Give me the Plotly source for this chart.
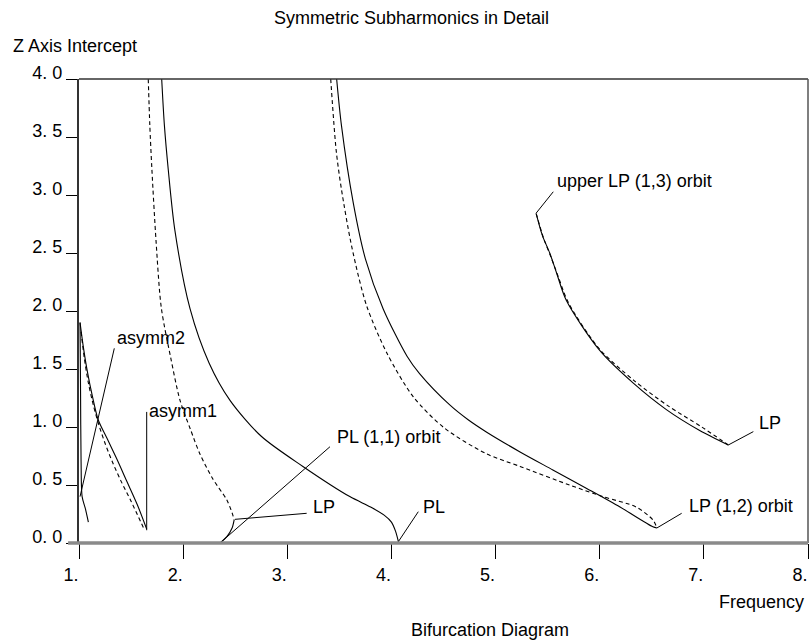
import plotly.graph_objects as go

# ---- data ----
x_ticks = [1, 2, 3, 4, 5, 6, 7, 8]
x_ticktext = ["1.", "2.", "3.", "4.", "5.", "6.", "7.", "8."]
y_ticks = [0, 0.5, 1, 1.5, 2, 2.5, 3, 3.5, 4]
y_ticktext = ["0. 0", "0. 5", "1. 0", "1. 5", "2. 0", "2. 5", "3. 0", "3. 5", "4. 0"]

# asymmetric branches near the left edge
asym_solid_x = [1.01, 1.04, 1.08, 1.13, 1.185, 1.27, 1.36, 1.46, 1.56, 1.65]
asym_solid_y = [1.90, 1.70, 1.48, 1.26, 1.06, 0.90, 0.73, 0.53, 0.33, 0.12]
asym_dash_x = [1.02, 1.05, 1.09, 1.14, 1.19, 1.25, 1.32, 1.40, 1.50, 1.63]
asym_dash_y = [1.82, 1.60, 1.38, 1.18, 1.02, 0.86, 0.70, 0.54, 0.36, 0.11]
asym2_x = [1.01, 1.015, 1.02, 1.03, 1.06, 1.09]
asym2_y = [1.90, 1.30, 0.70, 0.40, 0.30, 0.18]

# (1,1) orbit
o11_dash_x = [1.665, 1.68, 1.70, 1.74, 1.79, 1.88, 1.97, 2.07, 2.16, 2.28, 2.42, 2.47, 2.49]
o11_dash_y = [4.0, 3.6, 3.22, 2.6, 2.03, 1.6, 1.23, 0.98, 0.77, 0.56, 0.37, 0.26, 0.20]
o11_low_x = [2.49, 2.47, 2.42, 2.354]
o11_low_y = [0.20, 0.13, 0.055, 0.0]
o11_solid_x = [1.794, 1.82, 1.857, 1.92, 2.066, 2.25, 2.45, 2.75, 3.15, 3.60, 3.80, 3.93, 4.00, 4.04, 4.07]
o11_solid_y = [4.0, 3.6, 3.22, 2.7, 2.02, 1.55, 1.23, 0.92, 0.66, 0.40, 0.31, 0.24, 0.18, 0.10, 0.0]

# (1,2) orbit
o12_dash_x = [3.417, 3.47, 3.52, 3.62, 3.76, 3.955, 4.21, 4.51, 4.91, 5.235, 5.71, 6.03, 6.35, 6.51, 6.55]
o12_dash_y = [4.0, 3.38, 3.05, 2.55, 2.05, 1.64, 1.26, 0.99, 0.77, 0.66, 0.50, 0.40, 0.31, 0.20, 0.13]
o12_solid_x = [3.474, 3.52, 3.634, 3.75, 3.92, 4.15, 4.27, 4.56, 4.74, 4.915, 5.235, 5.55, 5.875, 6.195, 6.51, 6.55]
o12_solid_y = [4.0, 3.6, 2.93, 2.45, 2.02, 1.61, 1.46, 1.19, 1.06, 0.955, 0.785, 0.63, 0.47, 0.31, 0.14, 0.13]

# (1,3) orbit
o13_solid_x = [5.39, 5.45, 5.52, 5.585, 5.68, 6.0, 6.32, 6.64, 6.96, 7.235]
o13_solid_y = [2.84, 2.65, 2.50, 2.33, 2.09, 1.66, 1.38, 1.15, 0.97, 0.845]
o13_dash_x = [5.39, 5.46, 5.53, 5.60, 5.70, 6.0, 6.33, 6.66, 6.98, 7.235]
o13_dash_y = [2.84, 2.63, 2.47, 2.30, 2.07, 1.67, 1.40, 1.18, 1.00, 0.845]

# labels: text, point on curve, end of leader, text anchor
lab_text = ["asymm2", "asymm1", "LP", "PL (1,1) orbit", "PL",
            "LP (1,2) orbit", "upper LP (1,3) orbit", "LP"]
lab_px = [1.01, 1.65, 2.498, 2.354, 4.066, 6.55, 5.388, 7.235]
lab_py = [0.40, 0.11, 0.204, 0.0, 0.011, 0.13, 2.842, 0.845]
lab_lx = [1.339, 1.65, 3.186, 3.41, 4.258, 6.787, 5.554, 7.475]
lab_ly = [1.678, 1.13, 0.256, 0.83, 0.27, 0.256, 3.028, 0.96]
lab_tx = [1.346, 1.65, 3.23, 3.458, 4.284, 6.835, 5.571, 7.507]
lab_ty = [1.77, 1.14, 0.31, 0.914, 0.31, 0.323, 3.12, 1.034]

FONT = "Liberation Sans, Arial, sans-serif"
FS = 18
solid = dict(color="black", width=1.1)
dashed = dict(color="black", width=1.1, dash="4px,3px")

fig = go.Figure()
for xs, ys, ln in [
    (asym_solid_x, asym_solid_y, solid), (asym_dash_x, asym_dash_y, dashed),
    (asym2_x, asym2_y, solid),
    (o11_dash_x, o11_dash_y, dashed), (o11_low_x, o11_low_y, solid),
    (o11_solid_x, o11_solid_y, solid),
    (o12_dash_x, o12_dash_y, dashed), (o12_solid_x, o12_solid_y, solid),
    (o13_dash_x, o13_dash_y, dashed), (o13_solid_x, o13_solid_y, solid),
]:
    fig.add_trace(go.Scatter(x=xs, y=ys, mode="lines", line=dict(ln, shape="spline", smoothing=0.8),
                             showlegend=False, hoverinfo="skip"))

# leader lines
lx, ly = [], []
for i in range(len(lab_text)):
    lx += [lab_px[i], lab_lx[i], None]
    ly += [lab_py[i], lab_ly[i], None]
fig.add_trace(go.Scatter(x=lx, y=ly, mode="lines", line=dict(color="black", width=1),
                         showlegend=False, hoverinfo="skip", cliponaxis=False))

for i, t in enumerate(lab_text):
    fig.add_annotation(x=lab_tx[i], y=lab_ty[i], text=t, showarrow=False,
                       xanchor="left", yanchor="middle",
                       font=dict(family=FONT, size=FS, color="black"))

# frame
fig.add_shape(type="line", xref="paper", yref="paper", x0=0, x1=1, y0=1, y1=1,
              line=dict(color="#333", width=1.5))
fig.add_shape(type="line", xref="paper", yref="paper", x0=1, x1=1, y0=0, y1=1,
              line=dict(color="#555", width=1.5))
fig.add_shape(type="line", xref="paper", yref="paper", x0=-0.015, x1=1, y0=0, y1=0,
              line=dict(color="#8a8a8a", width=3.5))

# titles (paper coords relative to the plot area)
for txt, px, py, anc in [
    ("Symmetric Subharmonics in Detail", 0.456, 1.131, "center"),
    ("Z Axis Intercept", -0.093, 1.071, "left"),
    ("Frequency", 0.997, -0.127, "right"),
    ("Bifurcation Diagram", 0.4527, -0.1875, "left"),
]:
    fig.add_annotation(xref="paper", yref="paper", x=px, y=py, text=txt,
                       showarrow=False, xanchor=anc, yanchor="middle",
                       font=dict(family=FONT, size=FS, color="black"))

fig.update_layout(
    width=811, height=643,
    margin=dict(l=79, r=3, t=79, b=100),
    paper_bgcolor="white", plot_bgcolor="white",
    xaxis=dict(range=[1, 8], tickvals=x_ticks, ticktext=x_ticktext,
               ticks="outside", ticklen=15, tickcolor="black", tickwidth=1,
               showgrid=False, zeroline=False, showline=False, ticklabelshift=-8,
               tickfont=dict(family=FONT, size=FS, color="black")),
    yaxis=dict(range=[0, 4], tickvals=y_ticks, ticktext=y_ticktext,
               ticks="outside", ticklen=11, tickcolor="black", tickwidth=1,
               showgrid=False, zeroline=False, showline=True, linecolor="#333", linewidth=2,
               ticklabelshift=-6, ticklabelstandoff=0,
               tickfont=dict(family=FONT, size=FS, color="black")),
)

# drop the default 8px body margin so the figure fills the window
fig.write_html("out.html", config={"displayModeBar": False},
               post_script="document.body.style.margin='0';")
